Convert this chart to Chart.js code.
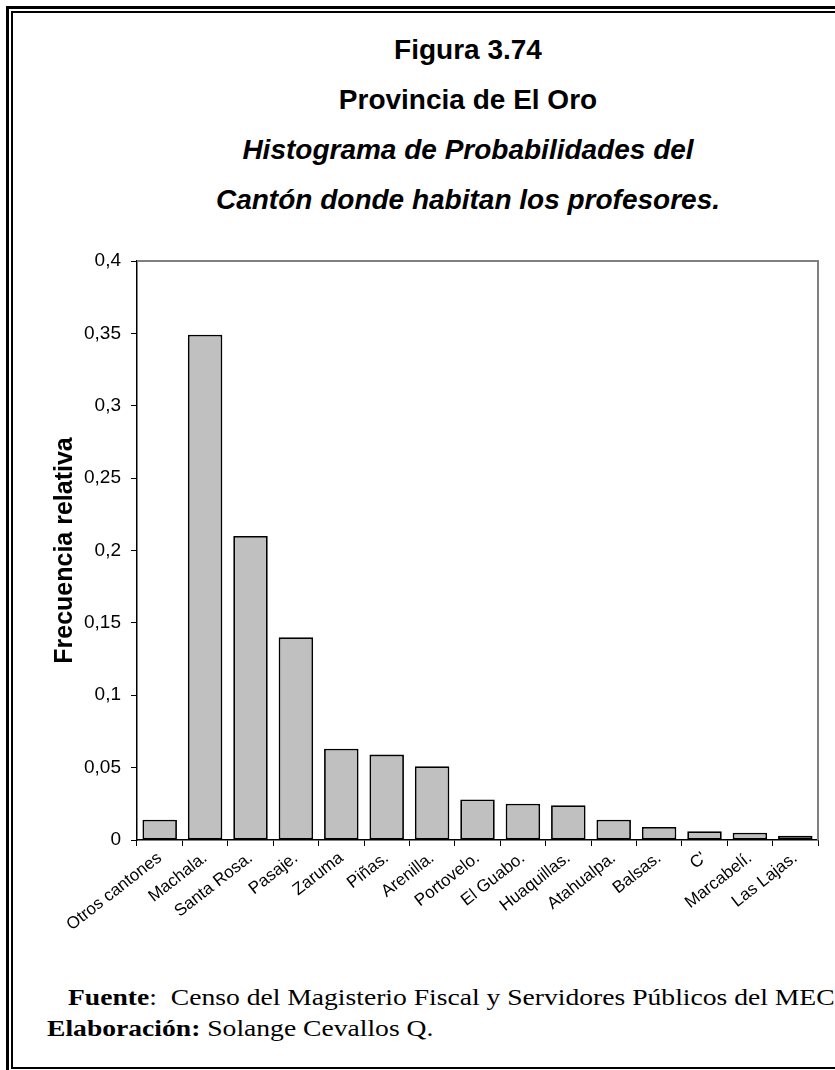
<!DOCTYPE html>
<html>
<head>
<meta charset="utf-8">
<script src="https://cdn.jsdelivr.net/npm/chart.js@4"></script>
<style>
    html, body { margin: 0; padding: 0; width: 835px; height: 1070px; overflow: hidden; background: #fff; }
    .frame-outer { position: absolute; left: 6px; top: 6px; width: 900px; height: 1100px; border: 3px solid #000; }
    .frame-inner { position: absolute; left: 11px; top: 11px; width: 900px; height: 1054px; border: 2px solid #000; }
    .titles { position: absolute; left: 0; top: 25px; width: 936px; text-align: center;
              font-family: "Liberation Sans", Arial, sans-serif; font-weight: bold; font-size: 28px; color: #000; }
    .titles div { height: 50px; line-height: 50px; }
    .titles .it { font-style: italic; }
    .chart-box { position: absolute; left: 0; top: 230px; width: 835px; height: 740px; }
    .foot { position: absolute; font-family: "Liberation Serif", "Times New Roman", serif; font-size: 23px; line-height: 26px;
            color: #000; white-space: nowrap; transform: scaleX(1.2); transform-origin: left; }
</style>
</head>
<body>
<div class="frame-outer"></div>
<div class="frame-inner"></div>
<div class="titles">
    <div>Figura 3.74</div>
    <div>Provincia de El Oro</div>
    <div class="it">Histograma de Probabilidades del</div>
    <div class="it">Cantón donde habitan los profesores.</div>
</div>
<div class="chart-box"><canvas id="histo"></canvas></div>
<div class="foot" style="left:68px; top:985px;"><b>Fuente</b>:&nbsp; Censo del Magisterio Fiscal y Servidores Públicos del MEC</div>
<div class="foot" style="left:47px; top:1016px;"><b>Elaboración:</b> Solange Cevallos Q.</div>

<script>
// datos
const cantones = ['Otros cantones', 'Machala.', 'Santa Rosa.', 'Pasaje.', 'Zaruma', 'Piñas.', 'Arenilla.',
    'Portovelo.', 'El Guabo.', 'Huaquillas.', 'Atahualpa.', 'Balsas.', "C'", 'Marcabelí.', 'Las Lajas.'];
const frecuencias = [0.014, 0.349, 0.210, 0.140, 0.063, 0.059, 0.051, 0.028, 0.025, 0.024, 0.014, 0.009, 0.006, 0.005, 0.003];
const yMax = 0.4;
const yPaso = 0.05;

const FONT = '"Liberation Sans", Arial, sans-serif';

// borde gris arriba y a la derecha del area de trazado
const bordeGris = {
    id: 'bordeGris',
    afterDraw(chart) {
        const { ctx, chartArea: a } = chart;
        ctx.save();
        ctx.strokeStyle = '#808080';
        ctx.lineWidth = 2;
        ctx.beginPath();
        ctx.moveTo(a.left, a.top);
        ctx.lineTo(a.right, a.top);
        ctx.lineTo(a.right, a.bottom);
        ctx.stroke();
        ctx.restore();
    }
};

new Chart(document.getElementById('histo').getContext('2d'), {
    type: 'bar',
    data: {
        labels: cantones,
        datasets: [{
            data: frecuencias,
            backgroundColor: '#c0c0c0',
            borderColor: '#000',
            borderWidth: 1.8,
            borderSkipped: false,
            barPercentage: 0.76,
            categoryPercentage: 1
        }]
    },
    options: {
        responsive: true,
        maintainAspectRatio: false,
        animation: false,
        layout: { padding: { top: 31, right: 17, left: 0, bottom: 0 } },
        plugins: { legend: { display: false }, tooltip: { enabled: false } },
        scales: {
            x: {
                afterFit: s => { s.height = 130; },
                grid: { drawOnChartArea: false, tickLength: 6, color: '#000', offset: true },
                border: { color: '#000', width: 1.5 },
                ticks: { autoSkip: false, minRotation: 38, maxRotation: 38, padding: 2,
                         color: '#000', font: { family: FONT, size: 17 } }
            },
            y: {
                min: 0,
                max: yMax,
                afterFit: s => { s.width = 137; },
                grid: { drawOnChartArea: false, tickLength: 6, color: '#000' },
                border: { color: '#000', width: 1.5 },
                ticks: {
                    stepSize: yPaso,
                    padding: 10,
                    color: '#000',
                    font: { family: FONT, size: 19 },
                    callback: v => String(Math.round(v * 100) / 100).replace('.', ',')
                },
                title: {
                    display: true,
                    text: 'Frecuencia relativa',
                    color: '#000',
                    font: { family: FONT, size: 25, weight: 'bold' },
                    padding: { top: 50, bottom: 0 }
                }
            }
        }
    },
    plugins: [bordeGris]
});
</script>
</body>
</html>
